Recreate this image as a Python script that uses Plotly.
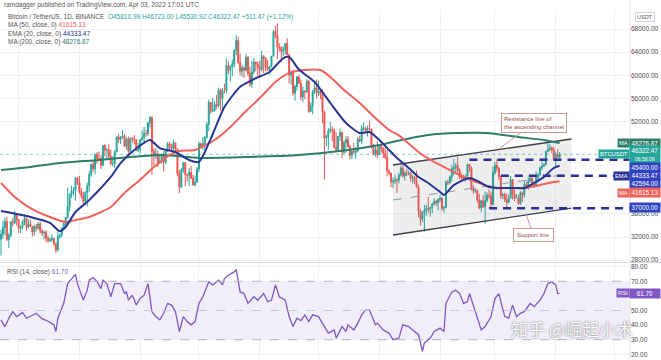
import pandas as pd
import plotly.graph_objects as go

# ---------------- DATA ----------------
dates = pd.date_range("2021-06-22", "2022-04-03", freq="D")

closes = [
 32510,33680,34660,31600,32240,34650,34470,35870,35040,
 33530,33830,34690,35290,33690,34220,33860,32880,33810,33510,34260,33090,32720,32820,31780,31390,31530,31780,30840,29790,32140,32290,33580,34290,35400,37270,39460,40020,40020,42230,41460,
 39850,39150,38210,39720,40870,42840,44610,43820,46280,45600,45550,44430,47830,47050,47110,45980,44690,44700,46760,49340,48870,49280,49510,47710,48990,46850,49070,48900,48810,46990,47110,
 48850,49250,49940,49930,51760,52660,46860,46060,46400,44850,45170,46030,44960,47110,48140,47760,47300,48310,47260,43010,40690,43560,44880,42840,42710,43200,42170,41030,41520,43790,
 48140,47640,48200,49220,51470,55320,53790,53950,54950,54660,57470,56000,57370,57350,61670,60880,61530,62010,64280,66000,62190,60690,61290,60860,63080,60330,58450,60590,62250,61880,61300,
 61000,63230,62940,61440,61010,61530,63300,67550,66930,64880,64810,64150,64400,65500,63610,60060,60370,56890,58050,59710,58620,56250,57270,57140,58960,53730,54720,57270,57810,56950,
 57200,56510,53600,49150,49400,50440,50590,50470,47540,47140,49390,50100,46700,48340,48860,47630,46130,46830,46680,46910,48910,48620,50820,50840,50430,50800,50700,47540,46460,47120,46220,
 47720,47290,46440,45830,43430,43080,41550,41680,41860,41820,42740,43900,42560,43080,43070,43080,42200,42350,41660,40680,36450,35070,36280,36650,36950,36810,37160,37710,38170,37920,38480,
 38740,36950,37150,41500,41410,42410,43840,44040,44380,43520,42390,42210,42070,42530,44580,43960,40540,40000,40120,38430,37020,38270,37250,38330,39220,39120,37700,43160,
 44420,43890,42450,39150,39400,38420,37990,38730,41940,39420,38730,38810,37780,39670,39280,41110,40920,41760,42200,41260,41000,42360,42880,43990,44310,44510,46820,47130,47430,47060,45510,
 46280,45810,46322.47]

opens = [
 31600,32510,33680,34660,31600,32240,34650,34470,35870,
 35040,33530,33830,34690,35290,33690,34220,33860,32880,33810,33510,34260,33090,32720,32820,31780,31390,31530,31780,30840,29790,32140,32290,33580,34290,35400,37270,39460,40020,40020,42230,
 41460,39850,39150,38210,39720,40870,42840,44610,43820,46280,45600,45550,44430,47830,47050,47110,45980,44690,44700,46760,49340,48870,49280,49510,47710,48990,46850,49070,48900,48810,46990,
 47110,48850,49250,49940,49930,51760,52660,46860,46060,46400,44850,45170,46030,44960,47110,48140,47760,47300,48310,47260,43010,40690,43560,44880,42840,42710,43200,42170,41030,41520,
 43790,48140,47640,48200,49220,51470,55320,53790,53950,54950,54660,57470,56000,57370,57350,61670,60880,61530,62010,64280,66000,62190,60690,61290,60860,63080,60330,58450,60590,62250,61880,
 61300,61000,63230,62940,61440,61010,61530,63300,67550,66930,64880,64810,64150,64400,65500,63610,60060,60370,56890,58050,59710,58620,56250,57270,57140,58960,53730,54720,57270,57810,
 56950,57200,56510,53600,49150,49400,50440,50590,50470,47540,47140,49390,50100,46700,48340,48860,47630,46130,46830,46680,46910,48910,48620,50820,50840,50430,50800,50700,47540,46460,47120,
 46220,47720,47290,46440,45830,43430,43080,41550,41680,41860,41820,42740,43900,42560,43080,43070,43080,42200,42350,41660,40680,36450,35070,36280,36650,36950,36810,37160,37710,38170,37920,
 38480,38740,36950,37150,41500,41410,42410,43840,44040,44380,43520,42390,42210,42070,42530,44580,43960,40540,40000,40120,38430,37020,38270,37250,38330,39220,39120,37700,
 43160,44420,43890,42450,39150,39400,38420,37990,38730,41940,39420,38730,38810,37780,39670,39280,41110,40920,41760,42200,41260,41000,42360,42880,43990,44310,44510,46820,47130,47430,47060,
 45510,46280,45810.99]

highs = [
 33300,34880,35300,35500,32730,34750,35300,36600,36100,
 35060,33980,34950,35950,35300,35100,35050,33920,34100,34260,34600,34680,33340,33120,33180,32250,31950,32440,31890,31040,32860,32580,33650,34500,35400,40550,39540,40900,40640,42320,42410,
 42600,40480,39780,39970,41420,43390,44700,45310,46450,46700,46790,46220,47890,48140,47370,48050,47160,46000,47050,49380,49800,49520,50500,49870,49280,49370,49180,49300,49660,48940,48250,
 48950,50420,51050,50560,51900,52920,52920,47380,47400,47040,45990,46460,46880,47250,48480,48500,48160,48840,48370,47330,43640,44000,44970,45000,42970,43940,44350,42790,42630,44130,
 48500,48360,49300,49520,51890,55750,55340,56100,55490,56560,57840,57680,57800,58550,62930,62350,61720,62700,64490,67000,66640,63730,61750,61490,63710,63290,61500,62480,62980,62360,62400,
 62440,64270,63500,63100,62600,61590,63290,67790,68530,69000,65600,65000,64990,65500,66400,63620,60820,60980,58370,59840,60050,59290,58000,57420,59400,59170,55280,57450,58860,59250,
 59050,57380,57600,53900,49700,50880,51940,51200,50800,50100,49480,50800,50200,48700,49500,49440,47990,47310,48300,47540,49330,49570,51380,51870,51160,51280,52090,50700,48140,47900,48550,
 47950,47990,47570,47500,47070,43750,43150,42300,42790,42250,43100,44350,44460,43450,43800,43480,43180,42690,42580,43500,41100,36840,36500,37550,37550,38920,37230,38000,38720,38360,38740,
 39270,38860,37390,41770,41950,42660,44500,45490,44800,45820,43900,43000,42750,42840,44750,44580,44200,40980,40450,40140,39490,38430,39250,39850,39720,40300,39850,44220,
 44950,45400,44100,42520,39700,39680,39550,39360,42600,42040,40240,39490,39310,39950,39870,41720,41480,42330,42400,42300,41540,43360,43000,44220,45090,44800,46920,48190,48100,47700,47600,
 46700,47200,46723.00]

lows = [
 28800,31690,32300,31280,30150,32000,33850,34230,34000,
 32710,32700,33330,34100,33120,33530,33770,32100,32270,33020,33310,32650,32200,31600,31130,31020,31170,31100,30400,29280,29480,31700,31930,33400,33880,35210,36390,38770,39200,38310,41000,
 39420,38690,37640,37510,37330,39850,42450,43260,42850,44670,45350,43770,44240,45970,45520,45660,44380,44200,43950,46630,48300,48120,49030,47600,47120,46320,46370,48350,48020,46850,46700,
 46520,48600,48400,49400,49500,50970,42830,44410,45510,44130,44750,44740,43370,44690,46700,47030,46760,47060,46860,42500,39600,40570,43090,40750,41650,40800,42110,40930,40770,41410,
 43280,47420,47110,46950,49060,50380,53360,53620,53660,54100,54420,53880,54250,56820,56850,60150,58960,59850,61320,63480,62000,60000,59700,59510,60650,59820,58000,57820,60170,60720,59900,
 59500,60620,60380,60680,60720,60130,61380,63290,66380,62820,64100,62250,63360,63600,63400,58570,58380,56470,55600,57350,58500,55610,55320,55850,56900,53500,53610,53260,56700,56000,
 56460,55840,51680,42000,47730,47100,50040,48600,47330,46850,46750,48640,45670,46290,46550,47510,45460,45520,46410,45560,46630,48420,48050,50400,50160,49410,50450,47310,46100,45900,45680,
 46200,46650,45700,45500,42500,42650,40610,40500,41200,39650,41270,42450,42310,41720,42570,42690,41540,41250,41140,40550,35440,34010,34600,32920,35700,36190,35510,36150,37530,37350,36630,
 38020,36590,36250,37040,40970,41120,41650,42670,43120,43190,42020,41750,41870,41570,42430,43310,40070,39450,39640,38000,36810,36350,37040,34320,38000,38600,37000,37450,
 42800,43330,41830,38550,38600,38090,37150,37870,38660,38540,38220,38660,37580,37580,38110,38830,40500,40140,41480,40910,40500,40870,41780,42570,43580,44080,44420,46660,46920,46550,45200,
 44200,45620,45530.92]

assert len(closes) == len(opens) == len(highs) == len(lows) == len(dates)

ema20_dates = ["2021-06-22","2021-07-07","2021-07-17","2021-07-22","2021-07-25","2021-07-30","2021-08-06","2021-08-17",
 "2021-08-22","2021-08-29","2021-09-06","2021-09-11","2021-09-19","2021-09-26","2021-10-01","2021-10-07","2021-10-14",
 "2021-10-22","2021-10-30","2021-11-06","2021-11-13","2021-11-16","2021-11-21","2021-11-29","2021-12-07","2021-12-15",
 "2021-12-22","2021-12-27","2022-01-01","2022-01-06","2022-01-10","2022-01-16","2022-01-21","2022-01-26","2022-02-01",
 "2022-02-03","2022-02-08","2022-02-16","2022-02-21","2022-02-26","2022-03-03","2022-03-11","2022-03-16","2022-03-21",
 "2022-03-26","2022-03-31","2022-04-03"]
ema20_values = [36500,35470,34440,33000,33750,36340,38400,42400,44800,47070,48800,47400,46700,45340,45000,49000,54500,
 58000,59500,60560,62980,63150,61000,58830,55200,51740,50000,50180,48800,47070,45700,43950,42400,41360,39800,
 39280,41000,42220,41530,40670,40490,40490,40490,41360,42400,43950,44333.47]

ma50_dates = ["2021-06-22","2021-06-29","2021-07-07","2021-07-17","2021-07-25","2021-07-30","2021-08-06","2021-08-17",
 "2021-08-24","2021-09-01","2021-09-08","2021-09-16","2021-09-21","2021-09-29","2021-10-09","2021-10-17","2021-10-24",
 "2021-11-01","2021-11-09","2021-11-16","2021-11-24","2021-12-02","2021-12-07","2021-12-14","2021-12-22","2021-12-30",
 "2022-01-06","2022-01-11","2022-01-21","2022-01-29","2022-02-06","2022-02-14","2022-02-21","2022-03-01","2022-03-09",
 "2022-03-16","2022-03-24","2022-03-31","2022-04-03"]
ma50_values = [41360,38940,37030,35470,34600,34950,35470,37200,39630,41900,44130,46200,46900,47070,48800,51050,53470,
 56060,58830,60400,60900,60900,59700,57450,55200,52600,50530,49600,46700,45000,43600,42220,41360,40490,40490,
 40490,41000,41530,41615.13]

ma200_dates = ["2021-06-22","2021-07-07","2021-07-22","2021-08-11","2021-08-27","2021-09-12","2021-10-01","2021-10-26",
 "2021-11-21","2021-12-16","2022-01-01","2022-01-11","2022-01-26","2022-02-10","2022-02-25","2022-03-13","2022-03-26",
 "2022-04-03"]
ma200_values = [43600,44130,44820,45340,45850,46200,45700,45850,46200,47070,47930,48700,49660,50000,50000,49300,48800,48276.87]

rsi_dates = ["2021-06-22","2021-06-24","2021-06-26","2021-06-28","2021-06-30","2021-07-03","2021-07-05","2021-07-08",
 "2021-07-10","2021-07-13","2021-07-15","2021-07-19","2021-07-20","2021-07-21","2021-07-24","2021-07-26","2021-07-28",
 "2021-07-30","2021-07-31","2021-08-03","2021-08-05","2021-08-06","2021-08-08","2021-08-10","2021-08-12","2021-08-13",
 "2021-08-15","2021-08-17","2021-08-19","2021-08-22","2021-08-24","2021-08-25","2021-08-26","2021-08-28","2021-08-30",
 "2021-09-01","2021-09-03","2021-09-05","2021-09-07","2021-09-09","2021-09-11","2021-09-13","2021-09-15","2021-09-17",
 "2021-09-19","2021-09-21","2021-09-23","2021-09-25","2021-09-27","2021-09-29","2021-10-01","2021-10-03","2021-10-06",
 "2021-10-08","2021-10-11","2021-10-13","2021-10-14","2021-10-16","2021-10-19","2021-10-20","2021-10-22","2021-10-24",
 "2021-10-26","2021-10-29","2021-10-31","2021-11-03","2021-11-05","2021-11-07","2021-11-09","2021-11-11","2021-11-14",
 "2021-11-16","2021-11-18","2021-11-20","2021-11-22","2021-11-24","2021-11-26","2021-11-28","2021-12-01","2021-12-03",
 "2021-12-06","2021-12-09","2021-12-10","2021-12-13","2021-12-15","2021-12-16","2021-12-19","2021-12-21","2021-12-23",
 "2021-12-25","2021-12-27","2021-12-30","2021-12-31","2022-01-03","2022-01-06","2022-01-08","2022-01-11","2022-01-13",
 "2022-01-16","2022-01-18","2022-01-21","2022-01-23","2022-01-24","2022-01-27","2022-01-29","2022-02-01","2022-02-03",
 "2022-02-04","2022-02-07","2022-02-09","2022-02-11","2022-02-13","2022-02-15","2022-02-16","2022-02-18","2022-02-20",
 "2022-02-22","2022-02-24","2022-02-26","2022-02-27","2022-03-01","2022-03-03","2022-03-04","2022-03-06","2022-03-08",
 "2022-03-10","2022-03-12","2022-03-14","2022-03-16","2022-03-19","2022-03-21","2022-03-24","2022-03-26","2022-03-28",
 "2022-03-30","2022-04-01","2022-04-02","2022-04-03"]
rsi_values = [43.6,38.8,44.7,49.2,45.8,48.5,44.7,47.0,48.1,44.2,43.3,40.2,35.6,44.7,54.9,68.4,71.8,74.7,68.4,57.1,63.9,
 70.7,72.5,69.7,65.0,70.7,68.4,59.4,68.4,68.4,61.6,62.7,57.1,60.5,53.7,58.2,60.5,68.4,49.2,45.8,43.6,48.1,54.9,53.7,
 49.2,35.6,45.8,42.4,40.2,42.4,54.9,59.4,69.7,67.5,70.7,67.5,71.8,74.1,76.4,77.9,62.7,61.6,54.9,59.4,57.1,61.6,56.0,
 57.1,67.5,59.4,57.1,45.8,39.0,44.7,43.0,47.0,42.4,47.0,45.8,41.3,34.5,36.7,31.1,39.0,35.6,40.2,36.7,41.3,47.0,50.3,
 50.3,40.2,41.3,36.7,34.5,30.0,31.1,40.2,39.0,36.7,33.4,22.1,27.8,31.1,35.6,37.9,35.6,54.9,62.7,63.9,61.6,54.9,56.0,
 61.6,53.7,44.7,36.7,39.0,43.6,45.8,58.2,61.6,56.0,45.8,44.7,53.7,45.8,48.1,49.2,54.9,52.6,57.1,61.6,68.4,69.5,67.5,
 61.6,61.7]
assert len(rsi_dates) == len(rsi_values)

# price-axis ticks (those hidden behind value tags in the reference are left out)
price_ticks = [28000, 32000, 36000, 52000, 56000, 60000, 64000, 68000]
rsi_ticks = [20, 30, 40, 50, 70, 80]

# drawings on the chart (date, price)
channel_dates = ["2022-01-08", "2022-04-09"]
channel_upper = [44470, 48970]
channel_lower = [32360, 37030]
channel_mid = [38415, 43000]

level_prices = [45400, 42594, 37000]
level_starts = ["2022-02-16", "2022-03-04", "2022-02-26"]

last_price = 46322.47
x_start, x_end = "2021-06-21 11:45", "2022-05-08 21:36"

# ---------------- STYLE ----------------
UP, DOWN = "#26a69a", "#ef5350"
EMA_C, MA50_C, MA200_C = "#283593", "#f0625a", "#2e7d6a"
LEVEL_C = "#2b2f95"
LABEL_BLUE = "#3044c2"
RSI_C = "#7e57c2"
GRID = "#eef0f4"
FONT = "Liberation Sans, Arial, sans-serif"
W, H = 661, 360
PLOT_R = 630

fig = go.Figure()

fig.add_trace(go.Scatter(
    x=channel_dates + channel_dates[::-1], y=channel_upper + channel_lower[::-1], mode="lines",
    fill="toself", fillcolor="rgba(120,123,134,0.13)", line=dict(width=0),
    hoverinfo="skip", showlegend=False))
for ys, dash, col, wd in [(channel_upper, "solid", "#3a3f4a", 1.3), (channel_lower, "solid", "#3a3f4a", 1.3),
                          (channel_mid, "dash", "#9598a1", 1)]:
    fig.add_trace(go.Scatter(x=channel_dates, y=ys, mode="lines", line=dict(color=col, width=wd, dash=dash),
                             hoverinfo="skip", showlegend=False))

fig.add_trace(go.Scatter(x=[x_start, x_end], y=[last_price, last_price], mode="lines",
                         line=dict(color="rgba(38,166,154,0.55)", width=1, dash="dot"),
                         hoverinfo="skip", showlegend=False))

fig.add_trace(go.Candlestick(
    x=dates, open=opens, high=highs, low=lows, close=closes,
    increasing=dict(line=dict(color=UP, width=1), fillcolor=UP),
    decreasing=dict(line=dict(color=DOWN, width=1), fillcolor=DOWN),
    whiskerwidth=0, showlegend=False, hoverinfo="skip"))

for xs, ys, col in [(ma200_dates, ma200_values, MA200_C), (ma50_dates, ma50_values, MA50_C),
                    (ema20_dates, ema20_values, EMA_C)]:
    fig.add_trace(go.Scatter(x=xs, y=ys, mode="lines", line=dict(color=col, width=2, shape="spline", smoothing=0.6),
                             hoverinfo="skip", showlegend=False))

for p, s in zip(level_prices, level_starts):
    fig.add_trace(go.Scatter(x=[s, x_end], y=[p, p], mode="lines",
                             line=dict(color=LEVEL_C, width=2.5, dash="8px,6px"),
                             hoverinfo="skip", showlegend=False))

fig.add_trace(go.Scatter(x=rsi_dates, y=rsi_values, mode="lines", line=dict(color=RSI_C, width=1.3),
                         xaxis="x2", yaxis="y2", hoverinfo="skip", showlegend=False))

# ---------------- LAYOUT ----------------
main_dom = [(H - 262) / H, (H - 10) / H]
rsi_dom = [0, (H - 263) / H]
xdom = [0, PLOT_R / W]

axis_common = dict(showline=False, zeroline=False, ticks="", tickfont=dict(size=6.5, color="#4a4a4a", family=FONT))
fig.update_layout(
    width=W, height=H, margin=dict(l=0, r=0, t=0, b=0),
    paper_bgcolor="white", plot_bgcolor="white", font=dict(family=FONT),
    xaxis=dict(domain=xdom, range=[x_start, x_end], type="date", showticklabels=False, showgrid=True,
               gridcolor=GRID, dtick="M1", tick0="2021-07-01", rangeslider=dict(visible=False),
               anchor="y", zeroline=False, showline=False),
    xaxis2=dict(domain=xdom, range=[x_start, x_end], type="date", showticklabels=False, showgrid=True,
                gridcolor=GRID, dtick="M1", tick0="2021-07-01", anchor="y2", matches="x",
                zeroline=False, showline=False),
    yaxis=dict(domain=main_dom, range=[27691, 71287], side="right", anchor="x",
               tickvals=price_ticks, tickformat=".2f", showgrid=True, gridcolor=GRID,
               **axis_common),
    yaxis2=dict(domain=rsi_dom, range=[16.1, 82.5], side="right", anchor="x2",
                tickvals=rsi_ticks, tickformat=".2f", showgrid=True, gridcolor=GRID,
                **axis_common),
)

shapes = [
    dict(type="rect", xref="x2 domain", yref="y2", x0=0, x1=1, y0=30, y1=70,
         fillcolor="rgba(126,87,194,0.10)", line=dict(width=0), layer="below"),
    dict(type="line", xref="x2 domain", yref="y2", x0=0, x1=1, y0=70, y1=70,
         line=dict(color="#b2b5be", width=1, dash="dash")),
    dict(type="line", xref="x2 domain", yref="y2", x0=0, x1=1, y0=50, y1=50,
         line=dict(color="#c9c9d6", width=1, dash="dash")),
    dict(type="line", xref="x2 domain", yref="y2", x0=0, x1=1, y0=30, y1=30,
         line=dict(color="#b2b5be", width=1, dash="dash")),
    dict(type="line", xref="paper", yref="paper", x0=0, x1=1, y0=(H - 262.5) / H, y1=(H - 262.5) / H,
         line=dict(color="#d9dbe0", width=1)),
    dict(type="line", xref="paper", yref="paper", x0=PLOT_R / W, x1=PLOT_R / W, y0=0, y1=1,
         line=dict(color="#e3e5ea", width=1)),
]
fig.update_layout(shapes=shapes)

def px_x(px):
    return px / W

def px_y(py):
    return 1 - py / H

ann = []
hdr = dict(size=6.5, color="#555", family=FONT)
ann.append(dict(xref="paper", yref="paper", x=px_x(2), y=px_y(5), xanchor="left", yanchor="middle", showarrow=False,
                text="ramdagger published on TradingView.com, Apr 03, 2022 17:01 UTC", font=hdr))
ann.append(dict(xref="paper", yref="paper", x=px_x(6), y=px_y(17), xanchor="left", yanchor="middle", showarrow=False,
                text="Bitcoin / TetherUS, 1D, BINANCE  <span style='color:#26a69a'>O45810.99 H46723.00 L45530.92 "
                     "C46322.47 +511.47 (+1.12%)</span>", font=hdr))
ann.append(dict(xref="paper", yref="paper", x=px_x(6), y=px_y(25.5), xanchor="left", yanchor="middle", showarrow=False,
                text=f"MA (50, close, 0) <span style='color:{MA50_C}'>41615.13</span>", font=hdr))
ann.append(dict(xref="paper", yref="paper", x=px_x(6), y=px_y(33.5), xanchor="left", yanchor="middle", showarrow=False,
                text=f"EMA (20, close, 0) <span style='color:{EMA_C}'>44333.47</span>", font=hdr))
ann.append(dict(xref="paper", yref="paper", x=px_x(6), y=px_y(41.7), xanchor="left", yanchor="middle", showarrow=False,
                text=f"MA (200, close, 0) <span style='color:{MA200_C}'>48276.87</span>", font=hdr))
ann.append(dict(xref="paper", yref="paper", x=px_x(5), y=px_y(272), xanchor="left", yanchor="middle", showarrow=False,
                text=f"RSI (14, close) <span style='color:{RSI_C}'>61.70</span>", font=hdr))
ann.append(dict(xref="paper", yref="paper", x=px_x(645), y=px_y(17), xanchor="center", yanchor="middle",
                showarrow=False, text="USDT", font=dict(size=5.5, color="#555", family=FONT),
                bordercolor="#d0d3da", borderwidth=1, borderpad=1, bgcolor="white"))

price_labels = [
    ("48276.87", 48276.87, "MA", MA200_C, MA200_C, 0),
    ("46322.47<br><span style='font-size:5px'>06:58:09</span>", 46322.47, "BTCUSDT", UP, UP, 0),
    ("45400.00", 45400, None, LABEL_BLUE, None, -8),
    ("44333.47", 44333.47, "EMA", LABEL_BLUE, EMA_C, -10),
    ("42594.00", 42594, None, LABEL_BLUE, None, -8),
    ("41615.13", 41615.13, "MA", MA50_C, MA50_C, -11),
    ("37000.00", 37000, None, LABEL_BLUE, None, 1),
]
for txt, price, tag, col, tcol, ys in price_labels:
    ann.append(dict(xref="paper", yref="y", x=1, y=price, yshift=ys, xanchor="right", yanchor="middle",
                    showarrow=False, text=txt, font=dict(size=6.3, color="white", family=FONT),
                    bgcolor=col, borderpad=1, width=28, align="center"))
    if tag:
        ann.append(dict(xref="paper", yref="y", x=px_x(629.5), y=price, yshift=ys, xanchor="right",
                        yanchor="middle", showarrow=False, text=tag,
                        font=dict(size=5.8, color="white", family=FONT), bgcolor=tcol, borderpad=1))
ann.append(dict(xref="paper", yref="y2", x=1, y=61.7, xanchor="right", yanchor="middle", showarrow=False,
                text="61.70", font=dict(size=6.3, color="white", family=FONT), bgcolor=RSI_C, borderpad=1, width=28))
ann.append(dict(xref="paper", yref="y2", x=px_x(629.5), y=61.7, xanchor="right", yanchor="middle", showarrow=False,
                text="RSI", font=dict(size=5.8, color="white", family=FONT), bgcolor=RSI_C, borderpad=1))

callout_font = dict(size=6, color="#9a4d47", family=FONT)
ann.append(dict(xref="x", yref="y", x="2022-03-03", y=47240, ax=35, ay=-26, text="Resistance line of<br>the ascending channel",
                showarrow=True, arrowhead=0, arrowcolor="#c99a95", arrowwidth=1, align="left",
                font=callout_font, bgcolor="rgba(255,255,255,0.9)", bordercolor="#c99a95", borderwidth=1, borderpad=2))
ann.append(dict(xref="x", yref="y", x="2022-03-17", y=35820, ax=7, ay=20, text="Support line",
                showarrow=True, arrowhead=0, arrowcolor="#c99a95", arrowwidth=1, align="left",
                font=callout_font, bgcolor="rgba(255,255,255,0.9)", bordercolor="#c99a95", borderwidth=1, borderpad=3))

ann.append(dict(xref="paper", yref="paper", x=px_x(572), y=px_y(328), xanchor="center", yanchor="middle",
                showarrow=False, text="知乎 @崛起小术",
                font=dict(size=17, color="rgba(255,255,255,0.95)", family="Noto Sans CJK SC",
                          shadow="0px 0px 2px rgba(60,60,60,0.8)")))

fig.update_layout(annotations=ann)
fig.write_html("out.html", config={"displayModeBar": False},
               post_script="document.body.style.margin='0';document.body.style.padding='0';")
